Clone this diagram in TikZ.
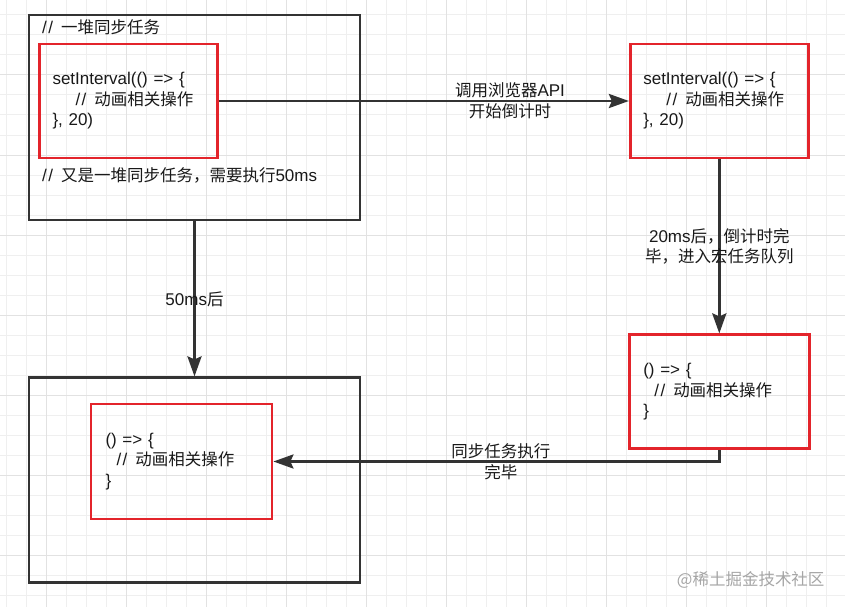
\documentclass[tikz,border=0pt]{standalone}
\usepackage{fontspec}
\setmainfont{Liberation Sans}
\newfontfamily\cjk[Scale=0.97]{Noto Sans CJK SC}
\usetikzlibrary{arrows.meta, positioning}
\definecolor{boxline}{HTML}{333333}
\definecolor{redline}{HTML}{E3242B}
\definecolor{gridminor}{HTML}{EFEFEF}
\definecolor{gridmajor}{HTML}{E2E2E2}
\newcommand{\zh}[1]{{\cjk #1}}
\newcommand{\slashes}{/\kern1.5pt/\hspace{8pt}}

\begin{document}
\begin{tikzpicture}[
    x=1pt, y=-1pt,
    every node/.style={font=\fontsize{17}{20.5}\selectfont, text=black!90},
    block/.style={rectangle, draw=boxline, line width=2.8pt, minimum width=331pt, minimum height=205pt},
    task/.style={rectangle, draw=redline, line width=2.8pt, minimum width=178pt, minimum height=114pt, inner xsep=13pt, text width=152pt, align=left},
    comment/.style={anchor=west, inner sep=0pt},
    arrow/.style={draw=boxline, line width=2.8pt, -{Stealth[length=20pt,width=14pt,inset=3pt]}},
    arrowtext/.style={align=center, inner sep=1pt}
]

% Canvas
\useasboundingbox (0,0) rectangle (845,607);
\fill[white] (0,0) rectangle (845,607);
\foreach \x in {6,26,...,845} \draw[gridminor, line width=1pt] (\x,0) -- (\x,607);
\foreach \y in {15,35,...,607} \draw[gridminor, line width=1pt] (0,\y) -- (845,\y);
\foreach \x in {46,126,...,845} \draw[gridmajor, line width=1pt] (\x,0) -- (\x,607);
\foreach \y in {75,155,...,607} \draw[gridmajor, line width=1pt] (0,\y) -- (845,\y);

% Nodes
\node (syncA) [block] at (194.5,117.5) {};
\node (syncB) [block, below=155pt of syncA] {};

\node (syncNote) [comment] at (42,27) {\slashes\zh{一堆同步任务}};
\node (syncMore) [comment] at (42,175) {\slashes\zh{又是一堆同步任务，需要执行}50ms};

\node (timerA) [task] at (128.5,101) {setInterval(() => \{\\\hspace*{23pt}\slashes\zh{动画相关操作}\\\}, 20)};
\node (timerB) [task, right=410pt of timerA] {setInterval(() => \{\\\hspace*{23pt}\slashes\zh{动画相关操作}\\\}, 20)};
\node (callback) [task, minimum width=180pt, below=174pt of timerB] {() => \{\\\hspace*{11pt}\slashes\zh{动画相关操作}\\\}};
\node (cbRun) [task, minimum width=181pt, minimum height=115pt] at (181.5,461.5) {() => \{\\\hspace*{11pt}\slashes\zh{动画相关操作}\\\}};

\node (mark) [anchor=east, text=gray!70, font=\fontsize{17}{20}\selectfont\cjk] at (828,580) {@稀土掘金技术社区};

% Arrows
\draw [arrow] (timerA.east) -- node[arrowtext, pos=0.71] {\zh{调用浏览器}API\\\zh{开始倒计时}} (timerA.east -| timerB.west);
\draw [arrow] (timerB) -- node[arrowtext] {20ms\zh{后，倒计时完}\\\zh{毕，进入宏任务队列}} (callback);
\draw [arrow] (callback.south) |- node[arrowtext, pos=0.745] {\zh{同步任务执行}\\\zh{完毕}} (cbRun.east);
\draw [arrow] (syncA) -- node[arrowtext] {50ms\zh{后}} (syncB);

\end{tikzpicture}
\end{document}
